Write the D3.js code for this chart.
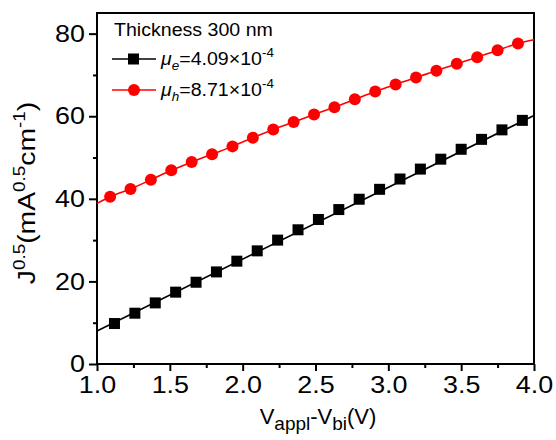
<!DOCTYPE html>
<html>
<head>
<meta charset="utf-8">
<script src="https://cdn.jsdelivr.net/npm/d3@7"></script>
<style>
	body { margin:0; background:#fff; }
	svg { font-family: "Liberation Sans", Arial, sans-serif; }
</style>
</head>
<body>
<div id="chart"></div>
<script>
// data
const electronV = [1.12,1.26,1.40,1.54,1.68,1.82,1.96,2.10,2.24,2.38,2.52,2.66,2.80,2.94,3.08,3.22,3.36,3.50,3.64,3.78,3.92];
const electronJ = [9.8,12.3,14.8,17.4,19.8,22.3,24.9,27.4,30.0,32.5,35.0,37.4,39.9,42.3,44.8,47.2,49.6,52.0,54.4,56.7,59.0];
const holeV = [1.09,1.23,1.37,1.51,1.65,1.79,1.93,2.07,2.21,2.35,2.49,2.63,2.77,2.91,3.05,3.19,3.33,3.47,3.61,3.75,3.89];
const holeJ = [40.5,42.4,44.6,46.9,48.9,50.8,52.7,54.8,56.8,58.6,60.4,62.2,64.1,66.0,67.7,69.4,71.0,72.7,74.3,76.0,77.6];
// fitted curves: values where they meet the frame
const electronFit = [[1.0, 8.0],[4.0, 60.2]];
const holeFitEnds = [[1.0, 38.9],[4.0, 78.5]];

const xTicks = [1.0,1.5,2.0,2.5,3.0,3.5,4.0];
const yTicks = [0,20,40,60,80];

const width = 556, height = 440;
const margin = {t:13, r:22, b:76, l:97};
const w = width - margin.l - margin.r;
const h = height - margin.t - margin.b;
const sx = 1.12; // the original type is a bit wide

const scaleX = d3.scaleLinear().domain([1,4]).range([0,w]);
const scaleY = d3.scaleLinear().domain([0,85]).range([h,0]);

const svg = d3.select('#chart').append('svg')
	.attr('width', width)
	.attr('height', height);

const plot = svg.append('g')
	.attr('transform', `translate(${margin.l},${margin.t})`);

// minor ticks
const axisXMinor = d3.axisBottom(scaleX)
	.tickValues(d3.range(1.25,4,0.5))
	.tickSize(4).tickFormat('');
const axisYMinor = d3.axisLeft(scaleY)
	.tickValues([10,30,50,70])
	.tickSize(4).tickFormat('');

plot.append('g').attr('class','minor')
	.attr('transform', `translate(0,${h})`)
	.call(axisXMinor);
plot.append('g').attr('class','minor')
	.call(axisYMinor);

// major axes
const axisX = d3.axisBottom(scaleX)
	.tickValues(xTicks)
	.tickSize(7)
	.tickPadding(5)
	.tickFormat(d3.format('.1f'));
const axisY = d3.axisLeft(scaleY)
	.tickValues(yTicks)
	.tickSize(8)
	.tickPadding(4)
	.tickFormat(d3.format('d'));

const axisXNode = plot.append('g')
	.attr('transform', `translate(0,${h})`)
	.call(axisX);
const axisYNode = plot.append('g')
	.call(axisY);

svg.selectAll('.tick line').attr('stroke','#000').attr('stroke-width',2);
svg.selectAll('.domain').remove();

axisXNode.selectAll('text')
	.attr('font-size', 24)
	.attr('fill','#000')
	.attr('transform', `scale(${sx},1)`);
axisYNode.selectAll('text')
	.attr('font-size', 24)
	.attr('fill','#000')
	.attr('x', -12/sx)
	.attr('transform', `scale(${sx},1)`);

// frame
plot.append('rect')
	.attr('x',0).attr('y',0)
	.attr('width',w).attr('height',h)
	.attr('fill','none')
	.attr('stroke','#000')
	.attr('stroke-width',2);

const electrons = electronV.map((v,i) => ({v:v, j:electronJ[i]}));
const holes = holeV.map((v,i) => ({v:v, j:holeJ[i]}));

// fit lines
const line = d3.line()
	.x(d => scaleX(d[0]))
	.y(d => scaleY(d[1]));
const curve = d3.line()
	.x(d => scaleX(d[0]))
	.y(d => scaleY(d[1]))
	.curve(d3.curveMonotoneX);

const holeFit = [holeFitEnds[0]].concat(holes.map(d => [d.v, d.j]), [holeFitEnds[1]]);

plot.append('path')
	.attr('d', line(electronFit))
	.attr('fill','none').attr('stroke','#000').attr('stroke-width',1.6);
plot.append('path')
	.attr('d', curve(holeFit))
	.attr('fill','none').attr('stroke','#ff0000').attr('stroke-width',1.6);

// markers
plot.selectAll('.sq')
	.data(electrons)
	.enter().append('rect')
	.attr('class','sq')
	.attr('x', d => scaleX(d.v) - 5.5)
	.attr('y', d => scaleY(d.j) - 5.5)
	.attr('width',11).attr('height',11)
	.attr('fill','#000');

plot.selectAll('.dot')
	.data(holes)
	.enter().append('circle')
	.attr('class','dot')
	.attr('cx', d => scaleX(d.v))
	.attr('cy', d => scaleY(d.j))
	.attr('r',6)
	.attr('fill','#ff0000');

// legend
const legend = svg.append('g');
legend.append('text')
	.attr('transform', `translate(114,36) scale(${sx},1)`)
	.attr('font-size',17.5)
	.text('Thickness 300 nm');

const legendRows = [
	{y:59, color:'#000', shape:'square', sub:'e', val:'=4.09×10'},
	{y:90, color:'#ff0000', shape:'circle', sub:'h', val:'=8.71×10'}
];

legendRows.forEach(r => {
	legend.append('line')
		.attr('x1',112).attr('x2',156)
		.attr('y1',r.y).attr('y2',r.y)
		.attr('stroke',r.color).attr('stroke-width',1.6);
	if (r.shape === 'square') {
		legend.append('rect')
			.attr('x',128).attr('y',r.y-5.5)
			.attr('width',11).attr('height',11)
			.attr('fill',r.color);
	} else {
		legend.append('circle')
			.attr('cx',134).attr('cy',r.y).attr('r',6)
			.attr('fill',r.color);
	}
	const t = legend.append('text')
		.attr('transform', `translate(161,${r.y+6}) scale(${sx},1)`)
		.attr('font-size',17.5);
	t.append('tspan').attr('font-style','italic').text('μ');
	t.append('tspan').attr('font-style','italic').attr('font-size',12).attr('dy',5).text(r.sub);
	t.append('tspan').attr('dy',-5).text(r.val);
	t.append('tspan').attr('font-size',12).attr('dy',-8).text('-4');
});

// x label
const xLabel = svg.append('text')
	.attr('transform', 'translate(318,424)')
	.attr('text-anchor','middle')
	.attr('font-size',22);
xLabel.append('tspan').text('V');
xLabel.append('tspan').attr('font-size',19).attr('dy',6).text('appl');
xLabel.append('tspan').attr('dy',-6).text('-V');
xLabel.append('tspan').attr('font-size',19).attr('dy',6).text('bi');
xLabel.append('tspan').attr('dy',-6).text('(V)');

// y label
const yLabel = svg.append('text')
	.attr('transform', `translate(35,193) rotate(-90) scale(1.18,1)`)
	.attr('text-anchor','middle')
	.attr('font-size',24);
yLabel.append('tspan').text('J');
yLabel.append('tspan').attr('font-size',16).attr('dy',-10).text('0.5');
yLabel.append('tspan').attr('dy',10).text('(mA');
yLabel.append('tspan').attr('font-size',16).attr('dy',-10).text('0.5');
yLabel.append('tspan').attr('dy',10).text('cm');
yLabel.append('tspan').attr('font-size',16).attr('dy',-10).text('-1');
yLabel.append('tspan').attr('dy',10).text(')');
</script>
</body>
</html>
